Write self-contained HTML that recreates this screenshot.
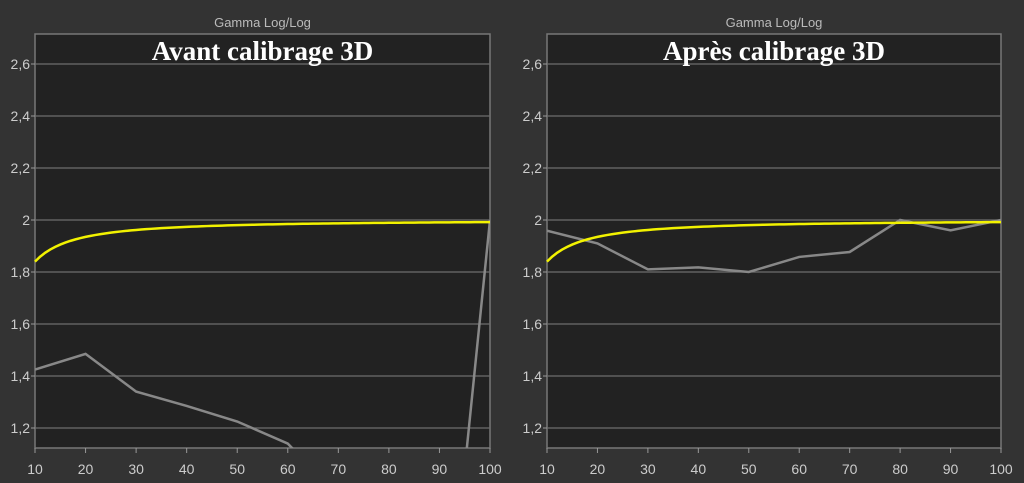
<!DOCTYPE html>
<html><head><meta charset="utf-8"><style>
html,body{margin:0;padding:0;background:#333;}
svg{display:block}
text{font-family:"Liberation Sans","DejaVu Sans",sans-serif;}
</style></head><body>
<svg id="s" width="1024" height="483" xmlns="http://www.w3.org/2000/svg">
<rect width="1024" height="483" fill="#333"/>
</svg>
<script>
const s=document.getElementById('s');
const NS='http://www.w3.org/2000/svg';
function el(t,a,txt){const e=document.createElementNS(NS,t);for(const k in a)e.setAttribute(k,a[k]);if(txt!==undefined)e.textContent=txt;s.appendChild(e);return e;}
function Y(v){return 220-(v-2)*260;}
function chart(x0,x1,title,gray){
  const X=v=>x0+(v-10)/90*(x1-x0);
  el('rect',{x:x0,y:34,width:x1-x0,height:414,fill:'#222',stroke:'#777','stroke-width':1.5});
  el('text',{x:(x0+x1)/2,y:27,'text-anchor':'middle',fill:'#bbb','font-size':13},'Gamma Log/Log');
  const ys=[[2.6,'2,6'],[2.4,'2,4'],[2.2,'2,2'],[2,'2'],[1.8,'1,8'],[1.6,'1,6'],[1.4,'1,4'],[1.2,'1,2']];
  for(const [v,l] of ys){const y=Y(v);
    el('line',{x1:x0,x2:x1,y1:y,y2:y,stroke:'#6e6e6e','stroke-width':1.3});
    el('line',{x1:x0-4,x2:x0,y1:y,y2:y,stroke:'#999'});
    el('text',{x:x0-5,y:y+5,'text-anchor':'end',fill:'#ccc','font-size':14},l);}
  for(let v=10;v<=100;v+=10){const x=X(v);
    el('line',{x1:x,x2:x,y1:448,y2:453,stroke:'#999'});
    el('text',{x:x,y:474,'text-anchor':'middle',fill:'#ccc','font-size':14},String(v));}
  el('text',{x:(x0+x1)/2,y:60,'text-anchor':'middle',fill:'#fff',style:'font-family:"Liberation Serif",serif;font-size:27px;font-weight:bold'},title);
  el('clipPath',{id:'c'+x0}).appendChild(document.createElementNS(NS,'rect'));
  const cp=s.lastChild.firstChild;cp.setAttribute('x',x0);cp.setAttribute('y',34);cp.setAttribute('width',x1-x0);cp.setAttribute('height',414);
  el('polyline',{points:gray.map(p=>X(p[0])+','+Y(p[1])).join(' '),fill:'none',stroke:'#888','stroke-width':2.5,'clip-path':'url(#c'+x0+')'});
  let pts=[];for(let v=10;v<=100;v+=1){const g=2-0.16*Math.pow(10/v,1.3);pts.push(X(v)+','+Y(g));}
  el('polyline',{points:pts.join(' '),fill:'none',stroke:'#f2f200','stroke-width':2.5});
}
chart(35,490,'Avant calibrage 3D',[[10,1.425],[20,1.485],[30,1.34],[40,1.285],[50,1.225],[60,1.14],[62,1.1],[95.3,1.1],[100,2.0]]);
chart(547,1001,'Après calibrage 3D',[[10,1.959],[20,1.91],[30,1.81],[40,1.818],[50,1.8],[60,1.858],[70,1.877],[80,2.0],[90,1.96],[100,2.0]]);
</script>
</body></html>
